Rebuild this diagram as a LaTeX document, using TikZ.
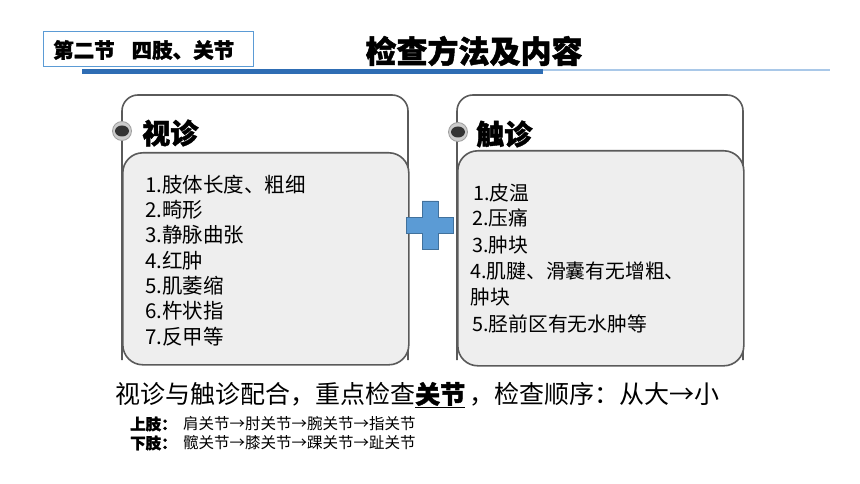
\documentclass[tikz,border=0pt]{standalone}
\usepackage{fontspec}
\setmainfont{Noto Sans CJK SC}
\newfontfamily\heavy{Noto Sans CJK SC}[BoldFeatures={FakeBold=1.5}]
\usetikzlibrary{shapes.geometric}
\definecolor{hdrblue}{HTML}{5B9BD5}
\definecolor{barblue}{HTML}{2E6DB4}
\definecolor{linblue}{HTML}{A9C8E8}
\definecolor{plusfill}{HTML}{5B9BD5}
\definecolor{plusedge}{HTML}{41719C}
\definecolor{boxedge}{HTML}{5A5A5A}
\definecolor{boxfill}{HTML}{EEEEEE}
\tikzset{
  px/.style={x=1pt,y=-1pt},
  outerbox/.style={draw=boxedge, line width=1.6pt, fill=white, rounded corners=16pt},
  innerbox/.style={draw=boxedge, line width=1.6pt, fill=boxfill, rounded corners=20pt},
  listitem/.style={anchor=west, inner sep=0pt, font=\fontsize{20.5}{22}\selectfont},
  listitemr/.style={anchor=west, inner sep=0pt, font=\fontsize{19.8}{22}\selectfont},
  headtxt/.style={anchor=west, inner sep=0pt, font=\fontsize{28}{30}\selectfont\heavy\bfseries},
  subtxt/.style={anchor=west, inner sep=0pt, font=\fontsize{15.5}{17}\selectfont},
  ballrim/.style={circle, fill=gray!40, draw=gray!75, line width=0.8pt, minimum size=19pt, inner sep=0pt},
  ballcore/.style={ellipse, fill=black!80, minimum width=14pt, minimum height=11pt, inner sep=0pt},
}
\begin{document}
\begin{tikzpicture}[px]
\useasboundingbox (0,0) rectangle (860,484);
% header
\node[draw=hdrblue, line width=1.3pt, fill=white, minimum width=210pt, minimum height=35pt, anchor=north west, inner sep=0pt] (hdr) at (43,31) {};
\node[anchor=west, inner sep=0pt, font=\fontsize{20.5}{23}\selectfont\heavy\bfseries] (hdrtxt) at (53,50) {第二节\hspace{17pt}四肢、关节};
\node[inner sep=0pt, font=\fontsize{31}{33}\selectfont\heavy\bfseries] (title) at (474,51) {检查方法及内容};
\fill[barblue] (82,69) rectangle (543,74);
\draw[linblue, line width=1.5pt] (543,70) -- (830,70);
% left box
\draw[outerbox] (122,360) -- (122,95) -- (408,95) -- (408,360);
\node[innerbox, minimum width=286pt, minimum height=212pt, anchor=north west] (lbox) at (122,152) {};
\node[ballrim] (lball) at (122,131) {};
\node[ballcore] (lballc) at (122,131) {};
\node[headtxt] (lhead) at (142,133) {视诊};
\node[listitem] (l1) at (145,185) {1.肢体长度、粗细};
\node[listitem] (l2) at (145,210) {2.畸形};
\node[listitem] (l3) at (145,235) {3.静脉曲张};
\node[listitem] (l4) at (145,261) {4.红肿};
\node[listitem] (l5) at (145,286) {5.肌萎缩};
\node[listitem] (l6) at (145,311) {6.杵状指};
\node[listitem] (l7) at (145,337) {7.反甲等};
% right box
\draw[outerbox] (457,360) -- (457,95) -- (743,95) -- (743,360);
\node[innerbox, minimum width=286pt, minimum height=215pt, anchor=north west] (rbox) at (457,150) {};
\node[ballrim] (rball) at (458,132) {};
\node[ballcore] (rballc) at (458,132) {};
\node[headtxt] (rhead) at (476,134) {触诊};
\node[listitemr] (r1) at (473,193) {1.皮温};
\node[listitemr] (r2) at (472,218) {2.压痛};
\node[listitemr] (r3) at (472,245) {3.肿块};
\node[listitemr] (r4) at (470,271) {4.肌腱、滑囊有无增粗、};
\node[listitemr] (r4b) at (470,297) {肿块};
\node[listitemr] (r5) at (472,324) {5.胫前区有无水肿等};
% plus
\draw[fill=plusfill, draw=plusedge, line width=0.6pt]
  (422,201) -- (438,201) -- (438,217) -- (453,217) -- (453,233) -- (438,233)
  -- (438,249) -- (422,249) -- (422,233) -- (406,233) -- (406,217) -- (422,217) -- cycle;
% bottom text
\node[anchor=west, inner sep=0pt, font=\fontsize{25}{27}\selectfont] (summary) at (115,395) {视诊与触诊配合，重点检查\underline{{\heavy\bfseries 关节}}\,，检查顺序：从大→小};
\node[subtxt, font=\fontsize{15.5}{17}\selectfont\heavy\bfseries] (upl) at (130,424) {上肢：};
\node[subtxt] (upt) at (183,424) {肩关节→肘关节→腕关节→指关节};
\node[subtxt, font=\fontsize{15.5}{17}\selectfont\heavy\bfseries] (lol) at (130,443) {下肢：};
\node[subtxt] (lot) at (183,443) {髋关节→膝关节→踝关节→趾关节};
\end{tikzpicture}
\end{document}
